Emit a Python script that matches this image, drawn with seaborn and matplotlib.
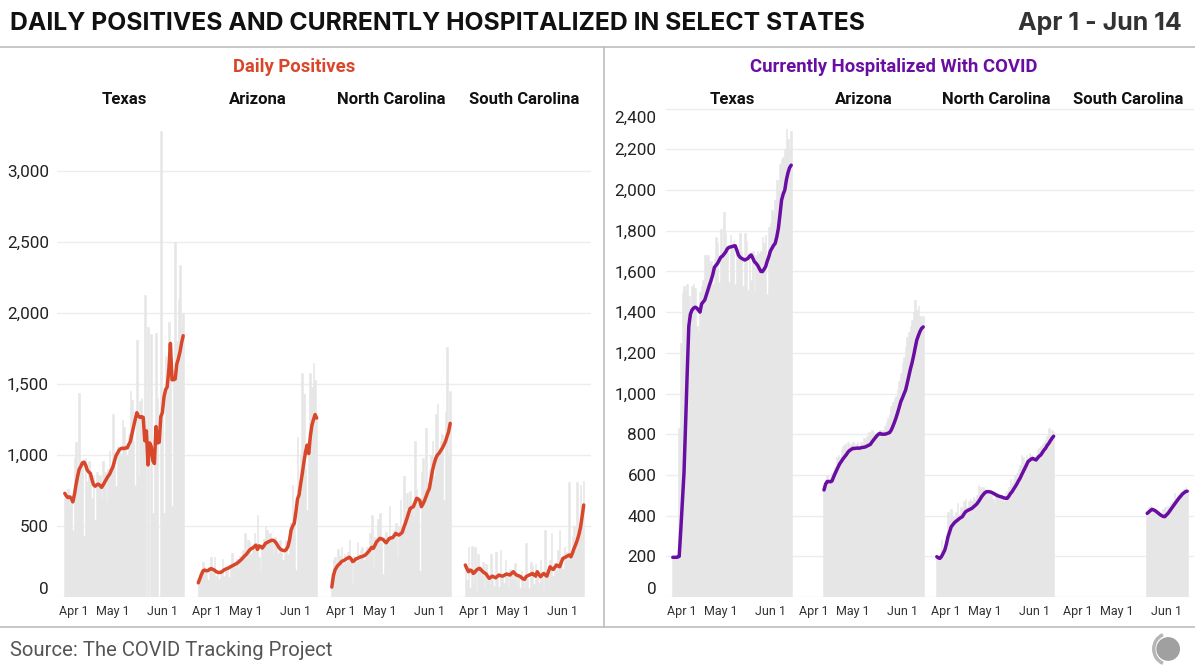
import numpy as np
import pandas as pd
import seaborn as sns
import matplotlib.pyplot as plt
from matplotlib.lines import Line2D
from matplotlib.patches import Circle, Arc
from matplotlib.transforms import ScaledTranslation

nan = np.nan

# -----------------------
# Data (Apr 1 - Jun 14, one value per day)
# -----------------------
states = ["Texas", "Arizona", "North Carolina", "South Carolina"]
days = np.arange(75)
tick_days = [0, 30, 61]
tick_labels = ["Apr 1", "May 1", "Jun 1"]

# daily positives (bars) and 7-day average (line)
pos_tx = [700, 690, 760, 640, 720, 470, 980, 1090, 880, 1440, 900, 950, 430, 980, 820,
          960, 840, 700, 860, 540, 880, 850, 860, 700, 960, 880, 670, 900, 1030, 870,
          1290, 1000, 780, 1060, 1040, 1010, 1250, 1200, 1050, 1000, 1150, 1450, 1390, 1100, 790,
          1810, 850, 1380, 1400, 1100, 2130, 0, 1900, 0, 1850, 590, 1200, 1860, 1400, 0,
          3280, 1400, 590, 1700, 1500, 1940, 1600, 640, 1600, 2500, 1800, 2100, 2340, 1900, 2000]
pos_tx_avg = [730, 710, 700, 705, 695, 670, 720, 790, 850, 900, 920, 945, 950, 930, 895,
              880, 870, 825, 790, 780, 790, 795, 785, 772, 790, 810, 830, 850, 865, 890,
              915, 955, 995, 1015, 1035, 1045, 1048, 1045, 1050, 1050, 1075, 1095, 1150, 1200, 1250,
              1298, 1275, 1265, 1270, 1265, 1100, 1170, 930, 1085, 1060, 960, 940, 1200, 1085, 1090,
              1270, 1300, 1410, 1460, 1480, 1600, 1786, 1530, 1530, 1535, 1640, 1680, 1727, 1790, 1840]

pos_az = [100, 150, 160, 250, 200, 170, 120, 210, 280, 200, 280, 150, 170, 130, 180,
          270, 150, 210, 220, 140, 230, 310, 230, 210, 270, 200, 290, 250, 330, 450,
          280, 400, 390, 300, 360, 450, 380, 580, 280, 190, 360, 410, 500, 470, 440,
          450, 380, 300, 420, 350, 310, 400, 310, 260, 300, 400, 300, 500, 520, 790,
          600, 190, 1130, 700, 1000, 1580, 1430, 900, 610, 1100, 1580, 1480, 1650, 1530, 1250]
pos_az_avg = [100, 130, 160, 185, 190, 185, 185, 195, 200, 195, 190, 180, 175, 172, 174,
              180, 190, 196, 200, 205, 212, 218, 224, 230, 236, 245, 255, 265, 278, 290,
              300, 315, 330, 340, 345, 355, 365, 335, 360, 355, 345, 360, 378, 384, 390,
              395, 400, 398, 390, 375, 355, 340, 332, 328, 326, 335, 355, 400, 470, 500,
              520, 600, 690, 720, 800, 870, 950, 1020, 1070, 1010, 1130, 1210, 1250, 1285, 1260]

pos_nc = [70, 260, 280, 200, 340, 290, 350, 230, 300, 250, 320, 400, 270, 100, 290,
          250, 390, 300, 330, 350, 260, 300, 350, 330, 450, 580, 210, 420, 380, 550,
          590, 380, 160, 420, 460, 380, 640, 420, 450, 470, 520, 280, 500, 680, 480,
          850, 600, 730, 580, 750, 660, 560, 1100, 760, 700, 180, 880, 980, 760, 1190,
          800, 900, 1000, 1100, 850, 1290, 1360, 1000, 1100, 1150, 680, 1300, 1760, 1000, 1450]
pos_nc_avg = [70, 150, 190, 210, 225, 235, 248, 255, 260, 268, 275, 280, 270, 250, 255,
              268, 272, 278, 282, 285, 290, 296, 308, 320, 335, 350, 343, 365, 389, 400,
              413, 410, 405, 392, 382, 398, 413, 416, 418, 432, 448, 440, 437, 445, 455,
              490, 520, 554, 590, 625, 630, 636, 665, 695, 690, 680, 636, 655, 680, 710,
              740, 765, 830, 894, 940, 977, 1000, 1012, 1030, 1047, 1070, 1094, 1130, 1164, 1223]

pos_sc = [230, 120, 350, 60, 360, 100, 350, 40, 300, 200, 150, 250, 60, 230, 120,
          90, 300, 120, 80, 320, 130, 70, 330, 140, 100, 260, 160, 60, 200, 180,
          120, 240, 90, 150, 60, 180, 110, 70, 380, 130, 60, 250, 220, 90, 230,
          140, 100, 260, 150, 50, 470, 200, 110, 260, 450, 150, 240, 180, 330, 470,
          250, 200, 350, 320, 260, 810, 300, 420, 500, 350, 810, 470, 790, 600, 820]
pos_sc_avg = [225, 200, 178, 190, 185, 166, 175, 190, 198, 202, 190, 178, 170, 162, 145,
              131, 140, 147, 140, 135, 145, 155, 150, 147, 150, 158, 162, 158, 155, 168,
              178, 165, 155, 150, 147, 138, 128, 124, 143, 150, 155, 160, 166, 155, 147,
              178, 160, 143, 155, 166, 155, 147, 180, 213, 200, 194, 210, 225, 218, 213,
              245, 272, 278, 283, 290, 296, 283, 310, 343, 370, 401, 440, 490, 566, 648]

# currently hospitalized (bars) and 7-day average (line)
hosp_tx = [195, 195, 196, 200, 830, 1250, 1500, 1530, 1510, 1540, 1480, 1340, 1530, 1540, 1520,
           1330, 1300, 1500, 1530, 1560, 1680, 1670, 1680, 1640, 1650, 1540, 1660, 1770, 1740, 1550,
           1810, 1700, 1890, 1790, 1720, 1550, 1780, 1730, 1750, 1540, 1700, 1680, 1790, 1700, 1530,
           1790, 1750, 1510, 1690, 1560, 1700, 1500, 1680, 1700, 1690, 1700, 1770, 1740, 1780, 1490,
           1820, 1840, 1900, 1880, 1950, 2050, 2000, 2130, 2150, 2160, 2200, 2300, 2250, 2200, 2290]
hosp_tx_avg = [195, 195, 195, 196, 200, 330, 470, 610, 850, 1100, 1330, 1390, 1410, 1420, 1424,
               1420, 1410, 1400, 1440, 1450, 1460, 1485, 1510, 1535, 1558, 1585, 1620, 1630, 1640, 1655,
               1670, 1675, 1685, 1695, 1710, 1718, 1720, 1722, 1725, 1726, 1705, 1681, 1670, 1664, 1660,
               1656, 1660, 1664, 1675, 1681, 1665, 1648, 1640, 1630, 1615, 1600, 1599, 1610, 1623, 1650,
               1672, 1700, 1714, 1728, 1738, 1770, 1812, 1880, 1951, 1980, 2000, 2050, 2085, 2110, 2122]

hosp_az = [nan] * 12 + [530, 580, 600, 570, 590, 610, 620, 640, 690, 700, 690, 720, 740, 750, 730,
                        760, 740, 750, 760, 740, 750, 760, 740, 760, 740, 780, 770, 790, 810, 800,
                        820, 810, 800, 790, 810, 820, 800, 820, 840, 860, 880, 900, 940, 960, 980,
                        990, 1020, 1060, 1100, 1150, 1180, 1230, 1280, 1300, 1330, 1360, 1400, 1460, 1410, 1430,
                        1380, 1350, 1380]
hosp_az_avg = [nan] * 12 + [526, 555, 567, 568, 566, 570, 590, 608, 625, 642, 657, 668, 680, 690, 700,
                            712, 720, 725, 730, 730, 731, 732, 731, 733, 735, 736, 738, 742, 746, 750,
                            762, 772, 782, 792, 800, 804, 800, 800, 800, 802, 805, 808, 820, 838, 858,
                            880, 905, 932, 960, 978, 998, 1017, 1050, 1085, 1120, 1150, 1185, 1225, 1263, 1285,
                            1305, 1320, 1327]

hosp_nc = [200, 190, 195, 280, 230, 260, 300, 420, 380, 430, 400, 390, 420, 460, 410,
           440, 430, 470, 480, 440, 470, 480, 470, 490, 480, 500, 550, 540, 530, 540,
           530, 520, 510, 520, 500, 480, 450, 500, 510, 490, 500, 480, 470, 510, 520,
           540, 580, 560, 580, 600, 610, 630, 650, 700, 690, 660, 700, 680, 710, 700,
           690, 660, 700, 720, 730, 740, 750, 760, 770, 790, 830, 800, 820, 810, nan]
hosp_nc_avg = [198, 192, 190, 200, 215, 231, 260, 296, 320, 345, 355, 365, 372, 378, 385,
               390, 395, 408, 419, 424, 428, 432, 436, 443, 450, 457, 468, 480, 493, 503,
               512, 517, 518, 517, 515, 511, 507, 502, 498, 495, 493, 490, 487, 485, 485,
               495, 508, 517, 530, 542, 555, 570, 583, 600, 616, 632, 648, 665, 672, 678,
               681, 677, 673, 683, 692, 698, 710, 722, 731, 745, 755, 768, 780, 790, nan]

hosp_sc = [nan] * 49 + [420, 440, 445, 430, 420, 425, 410, 400, 395, 405, 430, 440, 420, 445, 430,
                        460, 470, 510, 480, 500, 505, 515, 520, 530, 540, 520]
hosp_sc_avg = [nan] * 49 + [411, 418, 425, 431, 428, 424, 418, 412, 405, 400, 396, 395, 403, 411, 422,
                            433, 444, 455, 466, 477, 487, 496, 506, 512, 518, 520]

pos_series = [(pos_tx, pos_tx_avg), (pos_az, pos_az_avg), (pos_nc, pos_nc_avg), (pos_sc, pos_sc_avg)]
hosp_series = [(hosp_tx, hosp_tx_avg), (hosp_az, hosp_az_avg), (hosp_nc, hosp_nc_avg), (hosp_sc, hosp_sc_avg)]

# -----------------------
# Style
# -----------------------
sns.set_style("white")
plt.rcParams["font.family"] = ["Roboto", "DejaVu Sans"]

W, H = 1195, 670
fig = plt.figure(figsize=(W / 100, H / 100), dpi=100)

BAR = "#e6e6e6"
RED = "#d9472b"
PURPLE = "#6a0ea3"
GRID = "#ededed"
RULE = "#bdbdbd"


def px_axes(left, top, width, height):
    return fig.add_axes([left / W, 1 - (top + height) / H, width / W, height / H])


def shift(label, dx=0, dy=0):
    label.set_transform(label.get_transform() + ScaledTranslation(dx / 100, dy / 100, fig.dpi_scale_trans))


panels = [
    dict(series=pos_series, color=RED, left=57.25, step=133.5, xlim=(-4.72, 78.72),
         ylim=(0, 3444), yticks=np.arange(0, 3001, 500), ypad=6),
    dict(series=hosp_series, color=PURPLE, left=666, step=132, xlim=(-4.25, 78.25),
         ylim=(0, 2403), yticks=np.arange(0, 2401, 200), ypad=7),
]

for p in panels:
    for i, (state, (bars, avg)) in enumerate(zip(states, p["series"])):
        ax = px_axes(p["left"] + i * p["step"], 108, p["step"], 489)
        df = pd.DataFrame({"day": days, "value": bars, "avg": avg})

        sns.histplot(data=df.dropna(subset=["value"]), x="day", weights="value", discrete=True,
                     color=BAR, alpha=1, edgecolor=BAR, linewidth=0.4, ax=ax)
        sns.lineplot(data=df.dropna(subset=["avg"]), x="day", y="avg", color=p["color"],
                     linewidth=2.5, ax=ax)

        ax.set_xlim(*p["xlim"])
        ax.set_ylim(*p["ylim"])
        ax.set_yticks(p["yticks"])
        ax.set_xticks(tick_days)
        ax.set_xlabel("")
        ax.set_ylabel("")
        ax.yaxis.grid(True, color=GRID, linewidth=1)
        ax.set_axisbelow(True)
        for s in ax.spines.values():
            s.set_visible(False)
        ax.tick_params(length=0)
        ax.tick_params(axis="x", pad=6)
        ax.tick_params(axis="y", pad=p["ypad"])
        ax.set_xticklabels(tick_labels, fontsize=9, color="#333333")
        first = ax.get_xticklabels()[0]
        first.set_ha("left")
        shift(first, dx=-6)
        ax.set_title(state, fontsize=12, fontweight="bold", color="#111111", pad=3)

        if i == 0:
            ax.set_yticklabels([f"{int(v):,}" for v in p["yticks"]], fontsize=12.3, color="#222222")
            labels = ax.get_yticklabels()
            shift(labels[0], dy=9)
            if p["yticks"][-1] == 2400:
                shift(labels[-1], dy=-8)
        else:
            ax.set_yticklabels([])

# -----------------------
# Header, rules, footer
# -----------------------
fig.text(10 / W, 1 - 23.5 / H, "DAILY POSITIVES AND CURRENTLY HOSPITALIZED IN SELECT STATES",
         fontsize=17.8, fontweight="bold", color="#111111", va="center", ha="left", family="Inter")
fig.text(1182 / W, 1 - 23.5 / H, "Apr 1 - Jun 14", fontsize=18, fontweight="bold",
         color="#333333", va="center", ha="right", family="Inter")
fig.text(294 / W, 1 - 67.5 / H, "Daily Positives", fontsize=13.3, fontweight="bold",
         color=RED, va="center", ha="center")
fig.text(894 / W, 1 - 67.5 / H, "Currently Hospitalized With COVID", fontsize=13.3, fontweight="bold",
         color=PURPLE, va="center", ha="center")
fig.text(10 / W, 1 - 650.5 / H, "Source: The COVID Tracking Project", fontsize=14.6,
         color="#555555", va="center", ha="left")

fig.add_artist(Line2D([0, 1], [1 - 47 / H] * 2, color=RULE, lw=1.2, transform=fig.transFigure))
fig.add_artist(Line2D([0, 1], [1 - 627 / H] * 2, color=RULE, lw=1.2, transform=fig.transFigure))
fig.add_artist(Line2D([604 / W] * 2, [1 - 47 / H, 1 - 627 / H], color=RULE, lw=1.2,
                      transform=fig.transFigure))

logo = px_axes(1148, 631, 36, 36)
logo.set_xlim(-1, 1)
logo.set_ylim(-1, 1)
logo.set_aspect("equal")
logo.axis("off")
logo.add_patch(Circle((0.12, 0), 0.62, color="#a0a0a0"))
logo.add_patch(Arc((0.12, 0), 1.6, 1.7, theta1=110, theta2=250, color="#b5b5b5", lw=2.5))

plt.savefig("out.png", dpi=100)
